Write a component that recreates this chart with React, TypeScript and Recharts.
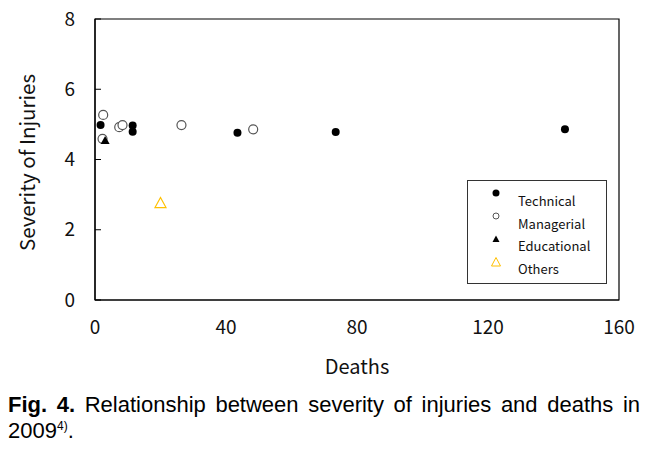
import React from "react";
import { ScatterChart, Scatter, XAxis, YAxis, ReferenceArea, Legend, Label } from "recharts";

// deaths (x) vs severity of injuries (y)
const technical = [
  { deaths: 1.7, severity: 4.98 },
  { deaths: 11.5, severity: 4.97 },
  { deaths: 11.5, severity: 4.79 },
  { deaths: 43.5, severity: 4.76 },
  { deaths: 73.5, severity: 4.78 },
  { deaths: 143.5, severity: 4.86 },
];
const managerial = [
  { deaths: 2.5, severity: 5.27 },
  { deaths: 2.3, severity: 4.59 },
  { deaths: 7.4, severity: 4.92 },
  { deaths: 8.4, severity: 4.98 },
  { deaths: 26.4, severity: 4.98 },
  { deaths: 48.3, severity: 4.86 },
];
const educational = [{ deaths: 3.1, severity: 4.54 }];
const others = [{ deaths: 20, severity: 2.76 }];

const xTicks = [0, 40, 80, 120, 160];
const yTicks = [0, 2, 4, 6, 8];

const AXIS_FONT = "'Noto Sans CJK KR', 'Noto Sans', sans-serif";
const YELLOW = "#FFC000";

const FilledCircle = (p: any) => <circle cx={p.cx} cy={p.cy} r={4} fill="#000" />;
const OpenCircle = (p: any) => (
  <circle cx={p.cx} cy={p.cy} r={4.5} fill="#fff" stroke="#555" strokeWidth={1.2} />
);
const FilledTriangle = (p: any) => (
  <polygon
    points={`${p.cx},${p.cy - 4.5} ${p.cx - 4.5},${p.cy + 3.5} ${p.cx + 4.5},${p.cy + 3.5}`}
    fill="#000"
  />
);
const OpenTriangle = (p: any) => (
  <polygon
    points={`${p.cx},${p.cy - 5.5} ${p.cx - 5.5},${p.cy + 4.5} ${p.cx + 5.5},${p.cy + 4.5}`}
    fill="none"
    stroke={YELLOW}
    strokeWidth={1.2}
  />
);

const legendItems = [
  { name: "Technical", marker: <circle cx={6} cy={6} r={3.5} fill="#000" /> },
  { name: "Managerial", marker: <circle cx={6} cy={6} r={3} fill="#fff" stroke="#555" strokeWidth={1} /> },
  { name: "Educational", marker: <polygon points="6,2.5 2.5,9 9.5,9" fill="#000" /> },
  { name: "Others", marker: <polygon points="6,1.5 1.5,10 10.5,10" fill="none" stroke={YELLOW} strokeWidth={1} /> },
];

const LegendBox = () => (
  <div
    style={{
      position: "relative",
      width: 140,
      height: 104,
      border: "1px solid #333",
      boxSizing: "border-box",
      background: "#fff",
      fontFamily: AXIS_FONT,
      fontSize: 13,
      color: "#111",
    }}
  >
    {legendItems.map((it, i) => (
      <React.Fragment key={it.name}>
        <svg width={12} height={12} style={{ position: "absolute", left: 22, top: 6 + i * 23 }}>
          {it.marker}
        </svg>
        <div style={{ position: "absolute", left: 50, top: 11 + i * 22.5, lineHeight: "18px" }}>{it.name}</div>
      </React.Fragment>
    ))}
  </div>
);

export default function App() {
  return (
    <div style={{ position: "absolute", left: 0, top: 0, width: 656, height: 456, background: "#fff" }}>
      <ScatterChart width={656} height={390} margin={{ top: 19, right: 37, bottom: 0, left: 0 }}>
        <XAxis
          type="number"
          dataKey="deaths"
          domain={[0, 160]}
          ticks={xTicks}
          height={90}
          tickLine={false}
          tickSize={0}
          tickMargin={21}
          axisLine={{ stroke: "#000", strokeWidth: 1.2 }}
          tick={{ fill: "#111", fontSize: 19, fontFamily: AXIS_FONT }}
        >
          <Label
            content={({ viewBox }: any) => (
              <text
                x={viewBox.x + viewBox.width / 2}
                y={374}
                textAnchor="middle"
                fill="#111"
                fontSize={20}
                fontFamily={AXIS_FONT}
              >
                Deaths
              </text>
            )}
          />
        </XAxis>
        <YAxis
          type="number"
          dataKey="severity"
          domain={[0, 8]}
          ticks={yTicks}
          width={95}
          tickSize={-6}
          tickMargin={26}
          tickLine={{ stroke: "#000" }}
          axisLine={{ stroke: "#000", strokeWidth: 1.2 }}
          tick={{ fill: "#111", fontSize: 19, fontFamily: AXIS_FONT }}
        >
          <Label
            content={({ viewBox }: any) => {
              const cy = viewBox.y + viewBox.height / 2 + 3;
              return (
                <text
                  x={26}
                  y={cy}
                  transform={`rotate(-90, 26, ${cy})`}
                  textAnchor="middle"
                  dominantBaseline="central"
                  fill="#111"
                  fontSize={20.5}
                  fontFamily={AXIS_FONT}
                >
                  Severity of Injuries
                </text>
              );
            }}
          />
        </YAxis>
        <ReferenceArea x1={0} x2={160} y1={0} y2={8} fill="none" stroke="#000" strokeWidth={1.2} ifOverflow="visible" />
        <Scatter name="Technical" data={technical} shape={FilledCircle} isAnimationActive={false} />
        <Scatter name="Managerial" data={managerial} shape={OpenCircle} isAnimationActive={false} />
        <Scatter name="Educational" data={educational} shape={FilledTriangle} isAnimationActive={false} />
        <Scatter name="Others" data={others} shape={OpenTriangle} isAnimationActive={false} />
        <Legend
          layout="vertical"
          align="center"
          verticalAlign="middle"
          content={() => <LegendBox />}
          wrapperStyle={{ position: "absolute", left: 467, top: 180, width: 140, height: 104 }}
        />
      </ScatterChart>
      <div
        style={{
          position: "absolute",
          left: 8,
          top: 392,
          width: 632,
          fontFamily: "'Liberation Sans', sans-serif",
          fontSize: 22,
          lineHeight: "26px",
          color: "#000",
        }}
      >
        <div style={{ textAlign: "justify", textAlignLast: "justify" }}>
          <span style={{ fontWeight: "bold" }}>Fig. 4.</span> Relationship between severity of injuries and deaths in
        </div>
        <div>
          2009<sup style={{ fontSize: 12, verticalAlign: "top", lineHeight: "16px" }}>4)</sup>.
        </div>
      </div>
    </div>
  );
}
